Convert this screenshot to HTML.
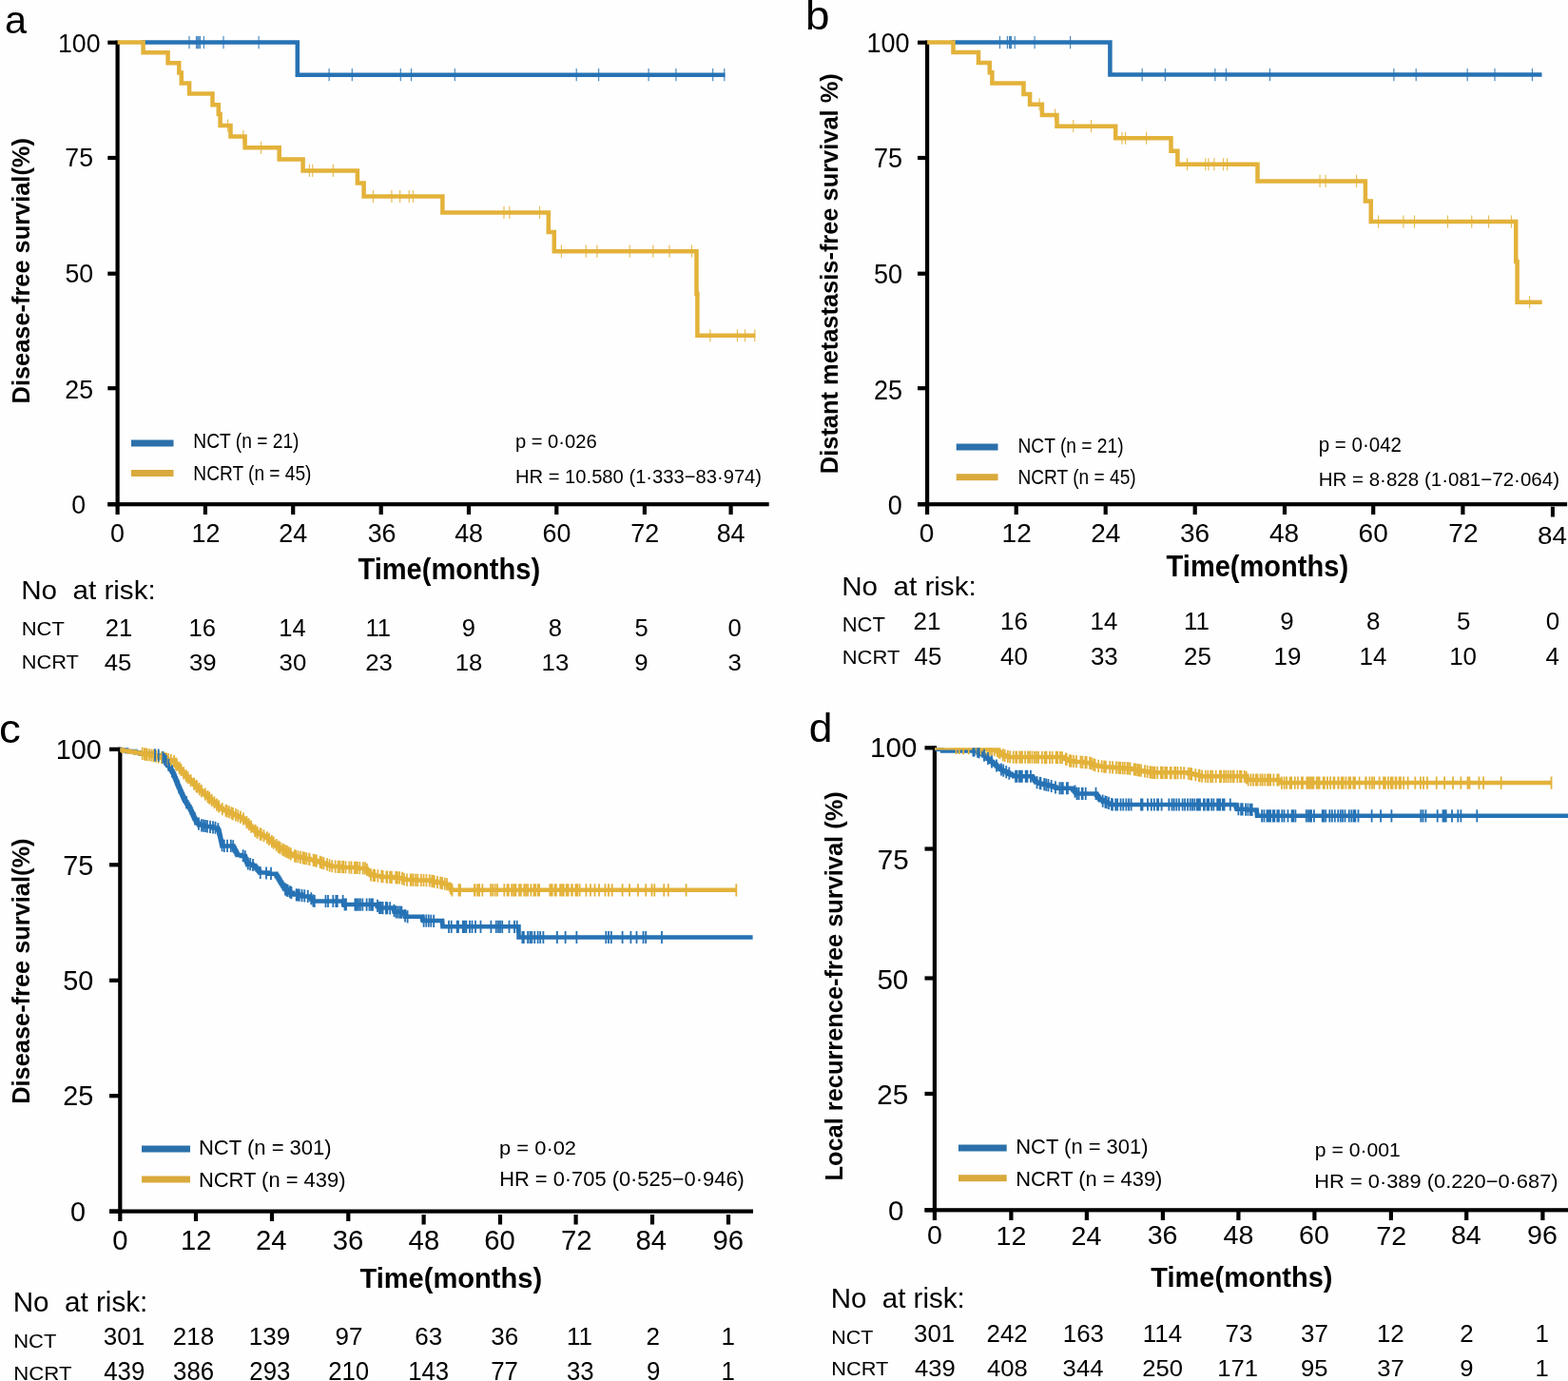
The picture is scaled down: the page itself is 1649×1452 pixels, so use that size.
<!DOCTYPE html>
<html><head><meta charset="utf-8"><title>Kaplan-Meier survival curves</title>
<style>html,body{margin:0;padding:0;background:#fefefe;overflow:hidden;width:1649px;height:1452px;}svg{display:block;}</style></head>
<body><svg width="1649" height="1452" viewBox="0 0 1649 1452">
<rect width="1649" height="1452" fill="#fefefe"/>
<rect x="121.50" y="42.60" width="4.20" height="489.70" fill="#000"/>
<rect x="113.30" y="528.10" width="695.40" height="4.20" fill="#000"/>
<rect x="113.30" y="42.60" width="10.30" height="4.20" fill="#000"/>
<rect x="113.30" y="163.90" width="10.30" height="4.20" fill="#000"/>
<rect x="113.30" y="285.60" width="10.30" height="4.20" fill="#000"/>
<rect x="113.30" y="406.10" width="10.30" height="4.20" fill="#000"/>
<rect x="113.30" y="528.10" width="10.30" height="4.20" fill="#000"/>
<rect x="121.50" y="530.20" width="4.20" height="10.80" fill="#000"/>
<rect x="213.80" y="530.20" width="4.20" height="10.80" fill="#000"/>
<rect x="306.10" y="530.20" width="4.20" height="10.80" fill="#000"/>
<rect x="398.60" y="530.20" width="4.20" height="10.80" fill="#000"/>
<rect x="490.90" y="530.20" width="4.20" height="10.80" fill="#000"/>
<rect x="583.20" y="530.20" width="4.20" height="10.80" fill="#000"/>
<rect x="675.80" y="530.20" width="4.20" height="10.80" fill="#000"/>
<rect x="766.50" y="530.20" width="4.20" height="10.80" fill="#000"/>
<path d="M148.4 44.6H312.8V78.7H762.4" fill="none" stroke="#2672b4" stroke-width="4.5" stroke-linejoin="miter"/>
<path d="M123.6 44.6H150.6V55.3H176.6V66.2H188.3V76.5H190.8V87.6H199.1V98.5H223.5V110.3H229.8V120H231.6V132H242.5V143.5H257.6V155.3H293.7V167.4H318.6V179.4H375.9V192.6H382.6V206.5H465.4V223.4H576.8V244H582.8V264.2H732.5V308.75H733.4V352.75H794.4" fill="none" stroke="#e3b23a" stroke-width="4.5" stroke-linejoin="miter"/>
<path d="M199.00 38.00v13.2M206.50 38.00v13.2M207.80 38.00v13.2M209.00 38.00v13.2M210.40 38.00v13.2M214.40 38.00v13.2M235.00 38.00v13.2M272.10 38.00v13.2M346.10 72.10v13.2M370.30 72.10v13.2M421.30 72.10v13.2M432.50 72.10v13.2M478.30 72.10v13.2M606.20 72.10v13.2M629.60 72.10v13.2M682.10 72.10v13.2M710.90 72.10v13.2M749.70 72.10v13.2M761.80 72.10v13.2" stroke="#2672b4" stroke-width="1.15" stroke-opacity="0.85" fill="none"/>
<path d="M239.60 125.40v13.2M255.90 136.90v13.2M274.60 148.70v13.2M325.40 172.80v13.2M328.75 172.80v13.2M350.40 172.80v13.2M392.50 199.90v13.2M411.90 199.90v13.2M420.60 199.90v13.2M430.25 199.90v13.2M434.40 199.90v13.2M530.00 216.80v13.2M535.90 216.80v13.2M567.50 216.80v13.2M590.40 257.60v13.2M616.25 257.60v13.2M627.90 257.60v13.2M662.25 257.60v13.2M686.90 257.60v13.2M704.00 257.60v13.2M727.50 257.60v13.2M746.90 346.15v13.2M775.40 346.15v13.2M783.50 346.15v13.2M793.75 346.15v13.2" stroke="#e3b23a" stroke-width="1.15" stroke-opacity="0.85" fill="none"/>
<rect x="973.00" y="42.60" width="4.20" height="489.70" fill="#000"/>
<rect x="965.00" y="528.10" width="683.10" height="4.20" fill="#000"/>
<rect x="965.00" y="42.60" width="10.10" height="4.20" fill="#000"/>
<rect x="965.00" y="163.90" width="10.10" height="4.20" fill="#000"/>
<rect x="965.00" y="285.60" width="10.10" height="4.20" fill="#000"/>
<rect x="965.00" y="406.10" width="10.10" height="4.20" fill="#000"/>
<rect x="965.00" y="528.10" width="10.10" height="4.20" fill="#000"/>
<rect x="973.00" y="530.20" width="4.20" height="10.80" fill="#000"/>
<rect x="1066.60" y="530.20" width="4.20" height="10.80" fill="#000"/>
<rect x="1160.60" y="530.20" width="4.20" height="10.80" fill="#000"/>
<rect x="1254.60" y="530.20" width="4.20" height="10.80" fill="#000"/>
<rect x="1348.90" y="530.20" width="4.20" height="10.80" fill="#000"/>
<rect x="1442.10" y="530.20" width="4.20" height="10.80" fill="#000"/>
<rect x="1536.30" y="530.20" width="4.20" height="10.80" fill="#000"/>
<rect x="1630.90" y="532.70" width="4.00" height="10.80" fill="#000"/>
<path d="M1000.3 44.6H1167.4V78.6H1621.5" fill="none" stroke="#2672b4" stroke-width="4.5" stroke-linejoin="miter"/>
<path d="M975.1 44.6H1002.5V55.1H1029V65.9H1040.75V76.25H1043.4V87.6H1076.5V98.9H1083.1V109.75H1095.9V121H1111.5V132.7H1173.2V145.25H1231.5V158.75H1238.4V172.75H1322.5V190.4H1435.9V211.5H1441.75V233.1H1594.25V275H1595.6V317.75H1621.75" fill="none" stroke="#e3b23a" stroke-width="4.5" stroke-linejoin="miter"/>
<path d="M1051.50 38.00v13.2M1059.40 38.00v13.2M1061.50 38.00v13.2M1062.50 38.00v13.2M1063.50 38.00v13.2M1067.25 38.00v13.2M1088.10 38.00v13.2M1125.60 38.00v13.2M1201.20 72.00v13.2M1225.40 72.00v13.2M1277.90 72.00v13.2M1289.40 72.00v13.2M1335.50 72.00v13.2M1465.90 72.00v13.2M1489.20 72.00v13.2M1543.20 72.00v13.2M1572.00 72.00v13.2M1611.40 72.00v13.2" stroke="#2672b4" stroke-width="1.15" stroke-opacity="0.85" fill="none"/>
<path d="M1093.10 103.15v13.2M1109.60 114.40v13.2M1128.75 126.10v13.2M1147.50 126.10v13.2M1180.00 138.65v13.2M1183.50 138.65v13.2M1205.60 138.65v13.2M1248.50 166.15v13.2M1267.75 166.15v13.2M1271.00 166.15v13.2M1276.90 166.15v13.2M1286.60 166.15v13.2M1290.60 166.15v13.2M1388.10 183.80v13.2M1394.10 183.80v13.2M1426.60 183.80v13.2M1449.60 226.50v13.2M1475.90 226.50v13.2M1487.50 226.50v13.2M1522.50 226.50v13.2M1547.75 226.50v13.2M1565.50 226.50v13.2M1589.50 226.50v13.2M1608.60 311.15v13.2" stroke="#e3b23a" stroke-width="1.15" stroke-opacity="0.85" fill="none"/>
<rect x="124.20" y="785.70" width="4.20" height="490.00" fill="#000"/>
<rect x="115.00" y="1271.50" width="677.00" height="4.20" fill="#000"/>
<rect x="115.00" y="785.70" width="11.30" height="4.20" fill="#000"/>
<rect x="115.00" y="907.20" width="11.30" height="4.20" fill="#000"/>
<rect x="115.00" y="1028.70" width="11.30" height="4.20" fill="#000"/>
<rect x="115.00" y="1150.10" width="11.30" height="4.20" fill="#000"/>
<rect x="115.00" y="1271.50" width="11.30" height="4.20" fill="#000"/>
<rect x="124.20" y="1273.60" width="4.20" height="10.40" fill="#000"/>
<rect x="203.90" y="1273.60" width="4.20" height="10.40" fill="#000"/>
<rect x="283.90" y="1273.60" width="4.20" height="10.40" fill="#000"/>
<rect x="364.20" y="1273.60" width="4.20" height="10.40" fill="#000"/>
<rect x="443.50" y="1277.00" width="4.20" height="10.50" fill="#000"/>
<rect x="523.90" y="1277.00" width="4.20" height="10.50" fill="#000"/>
<rect x="603.50" y="1277.00" width="4.20" height="10.50" fill="#000"/>
<rect x="683.90" y="1277.00" width="4.20" height="10.50" fill="#000"/>
<rect x="763.90" y="1277.00" width="4.20" height="10.50" fill="#000"/>
<path d="M126.30 788.50H133.15V790.00H140.00H142.50V791.25H147.50V792.50H150.00H160.00V794.50H170.00H170.60V796.00H171.80V797.50H173.00V799.00H174.20V800.50H175.40V802.00H176.00H176.46V803.64H177.39V805.29H178.32V806.93H179.25V808.57H180.18V810.21H181.11V811.86H182.04V813.50H182.50H182.81V815.06H183.44V816.62H184.06V818.19H184.69V819.75H185.31V821.31H185.94V822.88H186.56V824.44H187.19V826.00H187.50H187.85V827.56H188.54V829.11H189.24V830.67H189.93V832.22H190.62V833.78H191.32V835.33H192.01V836.89H192.71V838.44H193.40V840.00H193.75H194.27V841.67H195.31V843.33H196.35V845.00H197.40V846.67H198.44V848.33H199.48V850.00H200.00H200.36V851.57H201.07V853.14H201.79V854.71H202.50V856.29H203.21V857.86H203.93V859.43H204.64V861.00H205.00H205.62V862.62H206.88V864.25H208.12V865.88H209.38V867.50H210.00H214.50V869.00H223.50V870.50H228.00H229.00V872.50H230.00H230.19V874.19H230.56V875.88H230.94V877.57H231.31V879.26H231.69V880.95H232.06V882.64H232.44V884.33H232.81V886.02H233.19V887.71H233.56V889.40H233.75H245.00H245.42V891.00H246.25V892.60H247.08V894.20H247.92V895.80H248.75V897.40H249.58V899.00H250.00H253.75V900.00H257.50H257.75V901.50H258.25V903.00H258.75V904.50H259.25V906.00H259.75V907.50H260.00H261.88V908.75H265.62V910.00H267.50H268.12V911.50H269.38V913.00H270.62V914.50H271.88V916.00H273.12V917.50H273.75H281.88V918.75H290.00H290.50V920.38H291.50V922.00H292.50V923.62H293.50V925.25H294.50V926.88H295.50V928.50H296.50V930.12H297.50V931.75H298.50V933.38H299.50V935.00H300.00H301.67V936.87H305.00V938.73H308.33V940.60H310.00H317.50V942.50H325.00H325.83V944.17H327.50V945.83H329.17V947.50H330.00H361.00H361.06V949.25H361.19V951.00H361.25H396.00H396.69V952.70H398.06V954.40H398.75H413.75H413.96V955.85H414.38V957.30H414.79V958.75H415.00H425.00H425.21V960.42H425.62V962.08H426.04V963.75H426.25H443.75H443.96V965.20H444.38V966.65H444.79V968.10H445.00H465.00H465.07V969.65H465.23V971.20H465.38V972.75H465.53V974.30H465.60H545.50V985.50H791.60" fill="none" stroke="#2672b4" stroke-width="4.5" stroke-linejoin="miter"/>
<path d="M126.30 788.50H129.42V789.50H135.65V790.50H141.88V791.50H145.00H147.71V792.50H153.12V793.50H158.54V794.50H161.25H163.38V795.60H167.62V796.70H171.88V797.80H176.12V798.90H180.38V800.00H182.50H182.95V801.07H183.84V802.14H184.73V803.21H185.62V804.29H186.52V805.36H187.41V806.43H188.30V807.50H189.20V808.57H190.09V809.64H190.98V810.71H191.88V811.79H192.77V812.86H193.66V813.93H194.55V815.00H195.00H195.54V816.07H196.61V817.14H197.68V818.21H198.75V819.29H199.82V820.36H200.89V821.43H201.96V822.50H203.04V823.57H204.11V824.64H205.18V825.71H206.25V826.79H207.32V827.86H208.39V828.93H209.46V830.00H210.00H210.62V831.11H211.87V832.22H213.11V833.33H214.36V834.44H215.60V835.56H216.84V836.67H218.09V837.78H219.33V838.89H220.58V840.00H221.82V841.11H223.07V842.22H224.31V843.33H225.56V844.44H226.80V845.56H228.04V846.67H229.29V847.78H230.53V848.89H231.78V850.00H232.40H233.66V851.11H236.17V852.22H238.68V853.33H241.19V854.44H243.70V855.56H246.21V856.67H248.72V857.78H251.23V858.89H253.74V860.00H255.00H255.54V861.07H256.61V862.14H257.68V863.21H258.75V864.29H259.82V865.36H260.89V866.43H261.96V867.50H263.04V868.57H264.11V869.64H265.18V870.71H266.25V871.79H267.32V872.86H268.39V873.93H269.46V875.00H270.00H271.00V876.00H273.00V877.00H275.00V878.00H277.00V879.00H279.00V880.00H280.00H280.68V881.09H282.05V882.18H283.41V883.27H284.77V884.36H286.14V885.45H287.50V886.55H288.86V887.64H290.23V888.73H291.59V889.82H292.95V890.91H294.32V892.00H295.00H296.07V893.14H298.21V894.29H300.36V895.43H302.50V896.57H304.64V897.71H306.79V898.86H308.93V900.00H310.00H312.24V901.00H316.72V902.00H321.20V903.00H325.68V904.00H330.16V905.00H332.40H334.16V906.20H337.68V907.40H341.20V908.60H344.72V909.80H348.24V911.00H350.00H358.75V912.00H376.25V913.00H385.00H385.42V914.17H386.25V915.33H387.08V916.50H387.92V917.67H388.75V918.83H389.58V920.00H390.00H393.75V920.95H401.25V921.90H405.00H413.75V923.10H422.50H423.44V924.05H425.31V925.00H426.25H438.12V925.60H450.00H453.12V926.85H459.38V928.10H462.50H464.69V929.05H469.06V930.00H471.25H471.62V931.16H472.38V932.32H473.12V933.48H473.88V934.64H474.62V935.80H475.00H774.70" fill="none" stroke="#e3b23a" stroke-width="4.5" stroke-linejoin="miter"/>
<path d="M149.72 785.77v13.2M151.97 786.19v13.2M153.37 786.44v13.2M154.74 786.70v13.2M157.13 787.14v13.2M159.45 787.57v13.2M161.63 788.00v13.2M164.18 788.66v13.2M166.85 789.35v13.2M170.03 790.17v13.2M172.87 790.91v13.2M174.21 791.25v13.2M175.07 791.48v13.2M176.99 791.98v13.2M179.80 792.70v13.2M183.09 794.10v13.2M185.10 796.52v13.2M185.88 797.45v13.2M188.70 800.85v13.2M190.38 802.86v13.2M193.17 806.20v13.2M195.73 809.13v13.2M197.63 811.03v13.2M200.62 814.02v13.2M204.07 817.47v13.2M206.46 819.86v13.2M207.23 820.63v13.2M209.70 823.10v13.2M211.90 825.09v13.2M215.78 828.56v13.2M218.50 830.99v13.2M220.25 832.55v13.2M222.65 834.69v13.2M225.38 837.13v13.2M228.05 839.51v13.2M230.10 841.35v13.2M233.83 844.03v13.2M237.45 845.64v13.2M238.74 846.21v13.2M240.89 847.15v13.2M243.44 848.29v13.2M244.93 848.95v13.2M247.96 850.29v13.2M250.30 851.32v13.2M252.91 852.48v13.2M255.97 854.37v13.2M259.53 857.93v13.2M261.77 860.17v13.2M264.13 862.53v13.2M268.23 866.63v13.2M268.71 867.11v13.2M270.68 868.74v13.2M273.63 870.21v13.2M274.63 870.72v13.2M277.46 872.13v13.2M280.92 874.14v13.2M282.99 875.79v13.2M285.87 878.10v13.2M287.77 879.62v13.2M290.67 881.94v13.2M292.87 883.70v13.2M294.62 885.09v13.2M297.21 886.58v13.2M299.01 887.54v13.2M300.97 888.59v13.2M301.97 889.12v13.2M303.86 890.13v13.2M305.88 891.20v13.2M309.94 893.37v13.2M311.09 893.64v13.2M313.37 894.15v13.2M315.82 894.70v13.2M318.56 895.31v13.2M320.32 895.70v13.2M322.36 896.16v13.2M325.09 896.77v13.2M325.55 896.87v13.2M329.63 897.78v13.2M331.37 898.17v13.2M332.84 898.55v13.2M336.69 899.86v13.2M338.51 900.48v13.2M340.50 901.16v13.2M344.01 902.36v13.2M346.62 903.25v13.2M349.26 904.15v13.2M352.65 904.55v13.2M355.59 904.72v13.2M357.50 904.83v13.2M360.14 904.98v13.2M361.11 905.04v13.2M363.46 905.17v13.2M367.35 905.39v13.2M369.61 905.52v13.2M372.98 905.71v13.2M373.94 905.77v13.2M375.78 905.87v13.2M378.30 906.02v13.2M381.81 906.22v13.2M383.87 906.34v13.2M385.94 907.71v13.2M389.97 913.35v13.2M392.65 913.74v13.2M394.10 913.92v13.2M397.30 914.32v13.2M401.30 914.83v13.2M402.59 914.99v13.2M406.36 915.39v13.2M407.17 915.45v13.2M410.15 915.65v13.2M411.92 915.77v13.2M416.28 916.07v13.2M417.98 916.19v13.2M420.12 916.34v13.2M422.93 916.72v13.2M424.91 917.72v13.2M427.99 918.44v13.2M431.73 918.54v13.2M432.66 918.56v13.2M434.64 918.61v13.2M437.24 918.68v13.2M439.28 918.73v13.2M442.82 918.82v13.2M445.51 918.89v13.2M448.42 918.96v13.2M451.76 919.35v13.2M454.25 919.85v13.2M455.59 920.12v13.2M456.69 920.34v13.2M459.93 920.99v13.2M463.17 921.64v13.2M465.04 922.05v13.2M467.84 922.66v13.2M470.06 923.14v13.2M474.00 927.65v13.2M475.50 929.20v13.2M482.50 929.20v13.2M484.00 929.20v13.2M499.00 929.20v13.2M499.60 929.20v13.2M502.24 929.20v13.2M504.12 929.20v13.2M507.34 929.20v13.2M516.18 929.20v13.2M518.23 929.20v13.2M520.67 929.20v13.2M522.97 929.20v13.2M530.32 929.20v13.2M533.57 929.20v13.2M534.73 929.20v13.2M538.16 929.20v13.2M538.58 929.20v13.2M540.60 929.20v13.2M542.34 929.20v13.2M545.98 929.20v13.2M547.87 929.20v13.2M551.26 929.20v13.2M553.18 929.20v13.2M555.15 929.20v13.2M558.43 929.20v13.2M561.55 929.20v13.2M563.01 929.20v13.2M565.66 929.20v13.2M567.06 929.20v13.2M578.36 929.20v13.2M579.44 929.20v13.2M580.68 929.20v13.2M583.55 929.20v13.2M584.88 929.20v13.2M589.09 929.20v13.2M591.03 929.20v13.2M592.71 929.20v13.2M595.77 929.20v13.2M597.56 929.20v13.2M601.12 929.20v13.2M601.82 929.20v13.2M605.43 929.20v13.2M607.22 929.20v13.2M609.60 929.20v13.2M616.40 929.20v13.2M621.00 929.20v13.2M625.50 929.20v13.2M630.00 929.20v13.2M636.50 929.20v13.2M640.00 929.20v13.2M643.70 929.20v13.2M654.60 929.20v13.2M662.00 929.20v13.2M671.00 929.20v13.2M679.20 929.20v13.2M685.50 929.20v13.2M688.30 929.20v13.2M698.30 929.20v13.2M702.80 929.20v13.2M721.60 929.20v13.2M774.30 929.20v13.2" stroke="#e3b23a" stroke-width="1.8" stroke-opacity="1" fill="none"/>
<path d="M163.00 787.20v13.2M166.70 787.57v13.2M171.40 789.65v13.2M173.25 791.96v13.2M174.80 793.90v13.2M177.30 797.70v13.2M181.00 804.25v13.2M188.00 820.52v13.2M196.00 837.00v13.2M205.00 854.40v13.2M209.00 859.60v13.2M212.00 861.23v13.2M214.00 861.57v13.2M216.00 861.90v13.2M218.00 862.23v13.2M221.00 862.73v13.2M224.00 863.23v13.2M226.50 863.65v13.2M229.32 865.22v13.2M233.59 882.09v13.2M235.81 882.80v13.2M239.00 882.80v13.2M242.84 882.80v13.2M245.18 883.15v13.2M255.63 893.15v13.2M257.80 894.30v13.2M259.11 898.23v13.2M260.84 901.18v13.2M263.16 901.95v13.2M265.99 902.90v13.2M273.75 910.90v13.2M280.00 911.38v13.2M285.00 911.77v13.2M300.00 928.40v13.2M301.46 929.22v13.2M302.72 929.92v13.2M304.90 931.15v13.2M306.43 932.00v13.2M311.70 934.21v13.2M313.09 934.39v13.2M314.74 934.60v13.2M317.50 934.95v13.2M320.28 935.30v13.2M323.75 935.74v13.2M327.24 938.14v13.2M329.31 940.21v13.2M330.77 940.90v13.2M342.50 940.90v13.2M345.00 940.90v13.2M350.31 940.90v13.2M353.35 940.90v13.2M354.76 940.90v13.2M360.60 940.90v13.2M362.50 944.41v13.2M364.00 944.42v13.2M373.39 944.49v13.2M375.06 944.50v13.2M376.91 944.51v13.2M378.92 944.53v13.2M381.29 944.54v13.2M385.57 944.57v13.2M388.50 944.60v13.2M390.50 944.61v13.2M392.00 944.62v13.2M397.00 945.80v13.2M399.00 947.81v13.2M400.70 947.88v13.2M402.59 947.95v13.2M405.85 948.08v13.2M407.39 948.15v13.2M410.23 948.26v13.2M414.52 950.71v13.2M416.52 952.25v13.2M418.52 952.38v13.2M420.56 952.51v13.2M422.40 952.63v13.2M426.00 956.28v13.2M428.60 957.18v13.2M445.64 961.51v13.2M448.25 961.57v13.2M450.79 961.62v13.2M453.26 961.67v13.2M456.20 961.72v13.2M472.00 967.70v13.2M474.70 967.70v13.2M480.70 967.70v13.2M482.00 967.70v13.2M486.80 967.70v13.2M488.50 967.70v13.2M490.40 967.70v13.2M494.00 967.70v13.2M496.50 967.70v13.2M500.00 967.70v13.2M505.50 967.70v13.2M516.40 967.70v13.2M521.80 967.70v13.2M524.00 967.70v13.2M526.00 967.70v13.2M528.20 967.70v13.2M535.50 967.70v13.2M541.00 967.70v13.2M543.70 967.70v13.2M549.36 978.90v13.2M550.83 978.90v13.2M555.11 978.90v13.2M557.39 978.90v13.2M559.31 978.90v13.2M562.24 978.90v13.2M565.64 978.90v13.2M568.18 978.90v13.2M571.37 978.90v13.2M585.90 978.90v13.2M594.60 978.90v13.2M606.40 978.90v13.2M637.30 978.90v13.2M640.00 978.90v13.2M642.80 978.90v13.2M654.60 978.90v13.2M663.40 978.90v13.2M669.50 978.90v13.2M676.50 978.90v13.2M679.20 978.90v13.2M696.00 978.90v13.2" stroke="#2672b4" stroke-width="1.8" stroke-opacity="1" fill="none"/>
<rect x="980.80" y="784.20" width="4.20" height="490.20" fill="#000"/>
<rect x="972.50" y="1270.20" width="676.50" height="4.20" fill="#000"/>
<rect x="972.50" y="784.20" width="10.40" height="4.20" fill="#000"/>
<rect x="972.50" y="890.40" width="10.40" height="4.20" fill="#000"/>
<rect x="972.50" y="1026.40" width="10.40" height="4.20" fill="#000"/>
<rect x="972.50" y="1147.90" width="10.40" height="4.20" fill="#000"/>
<rect x="972.50" y="1270.20" width="10.40" height="4.20" fill="#000"/>
<rect x="980.80" y="1272.30" width="4.20" height="10.70" fill="#000"/>
<rect x="1061.30" y="1272.30" width="4.20" height="10.70" fill="#000"/>
<rect x="1140.80" y="1272.30" width="4.20" height="10.70" fill="#000"/>
<rect x="1220.80" y="1272.30" width="4.20" height="10.70" fill="#000"/>
<rect x="1300.30" y="1272.30" width="4.20" height="10.70" fill="#000"/>
<rect x="1380.30" y="1272.30" width="4.20" height="10.70" fill="#000"/>
<rect x="1460.80" y="1272.30" width="4.20" height="10.70" fill="#000"/>
<rect x="1540.10" y="1272.30" width="4.20" height="10.70" fill="#000"/>
<rect x="1620.30" y="1272.30" width="4.20" height="10.70" fill="#000"/>
<clipPath id="cd"><rect x="980" y="786.3" width="680" height="500"/></clipPath><g clip-path="url(#cd)">
<path d="M983.00 786.30H985.69V787.85H991.06V789.40H993.75H1025.00H1028.12V791.25H1031.25H1032.29V792.92H1034.38V794.58H1036.46V796.25H1037.50H1038.44V797.81H1040.31V799.38H1042.19V800.94H1044.06V802.50H1045.00H1045.94V804.06H1047.81V805.62H1049.69V807.19H1051.56V808.75H1052.50H1053.75V810.00H1056.25V811.25H1058.75V812.50H1060.00H1061.25V813.75H1063.75V815.00H1066.25V816.25H1067.50H1085.00H1085.62V817.81H1086.88V819.38H1088.12V820.94H1089.38V822.50H1090.00H1092.50V823.75H1097.50V825.00H1102.50V826.25H1105.00H1106.88V827.50H1110.62V828.75H1112.50H1127.50H1128.12V830.16H1129.38V831.58H1130.62V832.99H1131.88V834.40H1132.50H1152.50H1153.00V835.77H1154.00V837.14H1155.00V838.51H1156.00V839.88H1157.00V841.25H1157.50H1160.00V843.10H1162.50H1164.38V844.55H1168.12V846.00H1170.00H1299.30H1299.57V847.57H1300.10V849.13H1300.63V850.70H1300.90H1311.15V851.50H1321.40H1321.50V853.08H1321.70V854.65H1321.90V856.22H1322.10V857.80H1322.20H1649.00" fill="none" stroke="#2672b4" stroke-width="4.5" stroke-linejoin="miter"/>
<path d="M983.00 786.30H1022.50H1028.75V787.40H1041.25V788.50H1047.50H1048.12V789.42H1049.38V790.33H1050.62V791.25H1051.88V792.17H1053.12V793.08H1054.38V794.00H1055.00H1056.88V795.00H1060.62V796.00H1062.50H1117.50H1118.44V797.00H1120.31V798.00H1122.19V799.00H1124.06V800.00H1125.00H1130.25V801.00H1140.75V802.00H1146.00H1147.08V803.00H1149.25V804.00H1151.42V805.00H1152.50H1155.62V805.75H1161.88V806.50H1165.00H1170.60V807.25H1181.80V808.00H1187.40H1190.53V809.08H1196.78V810.15H1203.03V811.22H1209.28V812.30H1212.40H1247.40H1249.60V813.29H1254.00V814.27H1258.40V815.26H1262.80V816.25H1265.00H1310.00H1310.30V817.19H1310.90V818.12H1311.50V819.06H1312.10V820.00H1312.40H1345.00H1345.40V821.03H1346.20V822.07H1347.00V823.10H1347.40H1631.50" fill="none" stroke="#e3b23a" stroke-width="4.5" stroke-linejoin="miter"/>
<path d="M1005.60 779.87v13.2M1008.75 779.90v13.2M1013.10 779.93v13.2M1018.75 779.97v13.2M1027.57 780.39v13.2M1029.04 780.50v13.2M1031.30 780.67v13.2M1035.33 780.97v13.2M1038.30 781.20v13.2M1041.06 781.41v13.2M1043.12 781.57v13.2M1045.76 781.77v13.2M1048.69 782.77v13.2M1050.51 784.11v13.2M1051.53 784.86v13.2M1054.69 787.17v13.2M1056.70 787.85v13.2M1059.89 788.70v13.2M1062.22 789.33v13.2M1065.67 789.43v13.2M1068.31 789.45v13.2M1069.24 789.46v13.2M1072.28 789.49v13.2M1074.19 789.51v13.2M1074.97 789.51v13.2M1078.07 789.54v13.2M1081.07 789.57v13.2M1082.98 789.59v13.2M1085.43 789.61v13.2M1087.92 789.63v13.2M1090.03 789.65v13.2M1092.00 789.67v13.2M1095.80 789.70v13.2M1098.78 789.73v13.2M1100.51 789.75v13.2M1104.04 789.78v13.2M1106.70 789.80v13.2M1110.65 789.84v13.2M1112.27 789.85v13.2M1115.00 789.88v13.2M1116.97 789.90v13.2M1120.81 791.44v13.2M1121.65 791.83v13.2M1124.94 793.37v13.2M1126.64 793.56v13.2M1129.19 793.80v13.2M1132.00 794.07v13.2M1136.46 794.49v13.2M1138.41 794.68v13.2M1141.41 794.96v13.2M1142.73 795.09v13.2M1146.11 795.45v13.2M1147.87 796.26v13.2M1150.18 797.33v13.2M1151.57 797.97v13.2M1155.16 798.72v13.2M1158.61 799.13v13.2M1161.14 799.44v13.2M1162.87 799.64v13.2M1167.24 800.05v13.2M1170.08 800.24v13.2M1174.04 800.51v13.2M1176.39 800.66v13.2M1178.07 800.78v13.2M1180.60 800.94v13.2M1182.75 801.09v13.2M1185.44 801.27v13.2M1186.54 801.34v13.2M1188.53 801.59v13.2M1192.72 802.31v13.2M1194.30 802.59v13.2M1196.33 802.94v13.2M1198.09 803.24v13.2M1200.05 803.58v13.2M1203.96 804.25v13.2M1206.63 804.71v13.2M1209.53 805.21v13.2M1210.97 805.45v13.2M1212.96 805.71v13.2M1214.54 805.73v13.2M1217.17 805.77v13.2M1220.86 805.82v13.2M1222.74 805.85v13.2M1225.34 805.88v13.2M1227.10 805.91v13.2M1230.68 805.96v13.2M1231.76 805.98v13.2M1235.21 806.03v13.2M1236.27 806.04v13.2M1238.55 806.07v13.2M1241.92 806.12v13.2M1245.12 806.17v13.2M1245.38 806.17v13.2M1249.80 806.67v13.2M1251.85 807.07v13.2M1253.10 807.32v13.2M1257.28 808.14v13.2M1260.85 808.84v13.2M1261.55 808.97v13.2M1264.09 809.47v13.2M1267.74 809.67v13.2M1270.33 809.68v13.2M1273.18 809.70v13.2M1275.22 809.71v13.2M1278.71 809.73v13.2M1282.85 809.75v13.2M1284.21 809.76v13.2M1287.11 809.77v13.2M1289.28 809.78v13.2M1291.65 809.80v13.2M1294.20 809.81v13.2M1296.57 809.83v13.2M1297.67 809.83v13.2M1301.24 809.85v13.2M1304.02 809.87v13.2M1305.53 809.88v13.2M1308.77 809.89v13.2M1310.75 810.99v13.2M1312.66 813.40v13.2M1315.49 813.40v13.2M1317.99 813.40v13.2M1320.76 813.40v13.2M1322.57 813.40v13.2M1325.56 813.40v13.2M1327.71 813.40v13.2M1330.34 813.40v13.2M1333.08 813.40v13.2M1335.04 813.40v13.2M1336.13 813.40v13.2M1339.39 813.40v13.2M1343.25 813.40v13.2M1344.76 813.40v13.2M1347.90 816.50v13.2M1350.60 816.50v13.2M1353.08 816.50v13.2M1356.56 816.50v13.2M1358.09 816.50v13.2M1361.81 816.50v13.2M1364.94 816.50v13.2M1368.90 816.50v13.2M1369.95 816.50v13.2M1374.35 816.50v13.2M1375.85 816.50v13.2M1377.73 816.50v13.2M1379.65 816.50v13.2M1381.40 816.50v13.2M1384.77 816.50v13.2M1386.60 816.50v13.2M1387.62 816.50v13.2M1391.63 816.50v13.2M1392.86 816.50v13.2M1395.92 816.50v13.2M1399.10 816.50v13.2M1402.55 816.50v13.2M1403.39 816.50v13.2M1407.21 816.50v13.2M1407.68 816.50v13.2M1410.79 816.50v13.2M1412.61 816.50v13.2M1415.38 816.50v13.2M1418.50 816.50v13.2M1420.23 816.50v13.2M1423.37 816.50v13.2M1425.00 816.50v13.2M1429.59 816.50v13.2M1436.21 816.50v13.2M1436.68 816.50v13.2M1440.39 816.50v13.2M1443.02 816.50v13.2M1445.17 816.50v13.2M1450.70 816.50v13.2M1455.08 816.50v13.2M1456.82 816.50v13.2M1459.95 816.50v13.2M1462.78 816.50v13.2M1464.56 816.50v13.2M1467.61 816.50v13.2M1468.40 816.50v13.2M1471.60 816.50v13.2M1472.96 816.50v13.2M1476.13 816.50v13.2M1480.63 816.50v13.2M1488.30 816.50v13.2M1493.90 816.50v13.2M1497.00 816.50v13.2M1501.00 816.50v13.2M1510.70 816.50v13.2M1519.10 816.50v13.2M1528.00 816.50v13.2M1536.40 816.50v13.2M1543.50 816.50v13.2M1545.40 816.50v13.2M1555.40 816.50v13.2M1560.10 816.50v13.2M1578.70 816.50v13.2M1631.50 816.50v13.2" stroke="#e3b23a" stroke-width="1.8" stroke-opacity="1" fill="none"/>
<path d="M1023.37 782.42v13.2M1024.71 782.40v13.2M1028.08 783.51v13.2M1029.62 784.06v13.2M1035.00 787.65v13.2M1039.00 790.90v13.2M1043.00 794.23v13.2M1048.00 798.40v13.2M1053.00 802.40v13.2M1055.19 803.50v13.2M1058.24 805.02v13.2M1061.31 806.55v13.2M1068.05 809.65v13.2M1069.61 809.65v13.2M1072.04 809.65v13.2M1073.08 809.65v13.2M1074.84 809.65v13.2M1078.66 809.65v13.2M1080.43 809.65v13.2M1083.96 809.65v13.2M1090.49 816.02v13.2M1093.59 816.80v13.2M1094.47 817.02v13.2M1098.19 817.95v13.2M1100.24 818.46v13.2M1102.46 819.01v13.2M1105.70 819.88v13.2M1110.00 821.32v13.2M1114.44 822.15v13.2M1116.49 822.15v13.2M1117.82 822.15v13.2M1121.85 822.15v13.2M1122.94 822.15v13.2M1130.55 825.59v13.2M1132.57 827.80v13.2M1134.59 827.80v13.2M1137.81 827.80v13.2M1138.62 827.80v13.2M1141.75 827.80v13.2M1152.50 827.80v13.2M1159.70 835.46v13.2M1162.38 836.46v13.2M1163.80 837.00v13.2M1166.04 837.87v13.2M1169.03 839.02v13.2M1169.95 839.38v13.2M1173.23 839.40v13.2M1175.14 839.40v13.2M1178.55 839.40v13.2M1181.26 839.40v13.2M1184.40 839.40v13.2M1187.09 839.40v13.2M1189.57 839.40v13.2M1200.00 839.40v13.2M1201.50 839.40v13.2M1207.01 839.40v13.2M1210.85 839.40v13.2M1213.84 839.40v13.2M1217.06 839.40v13.2M1218.10 839.40v13.2M1221.60 839.40v13.2M1229.34 839.40v13.2M1232.54 839.40v13.2M1234.69 839.40v13.2M1237.35 839.40v13.2M1240.04 839.40v13.2M1243.64 839.40v13.2M1246.10 839.40v13.2M1249.05 839.40v13.2M1251.76 839.40v13.2M1254.08 839.40v13.2M1256.32 839.40v13.2M1258.93 839.40v13.2M1260.69 839.40v13.2M1262.03 839.40v13.2M1265.90 839.40v13.2M1266.79 839.40v13.2M1269.56 839.40v13.2M1271.20 839.40v13.2M1274.16 839.40v13.2M1276.36 839.40v13.2M1280.13 839.40v13.2M1281.83 839.40v13.2M1283.19 839.40v13.2M1285.83 839.40v13.2M1287.61 839.40v13.2M1293.80 839.40v13.2M1302.38 844.16v13.2M1305.12 844.26v13.2M1306.72 844.33v13.2M1310.10 844.46v13.2M1312.43 844.55v13.2M1314.88 844.65v13.2M1316.69 844.72v13.2M1327.11 851.20v13.2M1329.41 851.20v13.2M1332.46 851.20v13.2M1334.24 851.20v13.2M1336.06 851.20v13.2M1338.76 851.20v13.2M1340.36 851.20v13.2M1343.33 851.20v13.2M1344.95 851.20v13.2M1348.25 851.20v13.2M1350.52 851.20v13.2M1354.46 851.20v13.2M1358.55 851.20v13.2M1360.17 851.20v13.2M1362.38 851.20v13.2M1373.81 851.20v13.2M1375.85 851.20v13.2M1377.77 851.20v13.2M1379.06 851.20v13.2M1381.93 851.20v13.2M1390.71 851.20v13.2M1392.10 851.20v13.2M1394.16 851.20v13.2M1398.36 851.20v13.2M1400.84 851.20v13.2M1403.82 851.20v13.2M1407.22 851.20v13.2M1409.81 851.20v13.2M1411.96 851.20v13.2M1414.46 851.20v13.2M1418.79 851.20v13.2M1421.34 851.20v13.2M1423.68 851.20v13.2M1425.33 851.20v13.2M1428.49 851.20v13.2M1442.60 851.20v13.2M1452.10 851.20v13.2M1463.40 851.20v13.2M1494.30 851.20v13.2M1496.50 851.20v13.2M1499.40 851.20v13.2M1511.70 851.20v13.2M1517.50 851.20v13.2M1519.00 851.20v13.2M1520.70 851.20v13.2M1527.00 851.20v13.2M1533.30 851.20v13.2M1536.40 851.20v13.2M1553.30 851.20v13.2" stroke="#2672b4" stroke-width="1.8" stroke-opacity="1" fill="none"/>
</g>
<rect x="138.00" y="462.50" width="44.50" height="7.00" fill="#2b70aa"/>
<rect x="138.00" y="494.00" width="44.50" height="7.00" fill="#d9aa3c"/>
<rect x="1005.70" y="466.50" width="43.80" height="7.00" fill="#2b70aa"/>
<rect x="1005.70" y="498.20" width="43.80" height="7.00" fill="#d9aa3c"/>
<rect x="149.00" y="1204.50" width="51.00" height="7.00" fill="#2b70aa"/>
<rect x="149.00" y="1236.50" width="51.00" height="7.00" fill="#d9aa3c"/>
<rect x="1008.00" y="1203.50" width="50.70" height="7.00" fill="#2b70aa"/>
<rect x="1008.00" y="1235.20" width="50.70" height="7.00" fill="#d9aa3c"/>
<g fill="#000" font-family="Liberation Sans, Arial, sans-serif" style="white-space:pre">
<text transform="translate(5.03,35.20) scale(1.0440,1)" font-size="39.82">a</text>
<text transform="translate(847.02,31.47) scale(1.0750,1)" font-size="42.59">b</text>
<text transform="translate(-1.05,781.37) scale(1.0489,1)" font-size="43.45">c</text>
<text transform="translate(850.72,779.57) scale(1.0437,1)" font-size="42.59">d</text>
<text transform="translate(61.00,54.72) scale(0.9482,1)" font-size="28.17">100</text>
<text transform="translate(68.29,175.18) scale(0.9482,1)" font-size="28.17">75</text>
<text transform="translate(68.43,297.37) scale(0.9482,1)" font-size="28.17">50</text>
<text transform="translate(68.29,419.22) scale(0.9482,1)" font-size="28.17">25</text>
<text transform="translate(75.34,540.22) scale(0.9482,1)" font-size="28.17">0</text>
<text transform="translate(911.38,54.71) scale(0.9314,1)" font-size="29.01">100</text>
<text transform="translate(918.92,175.66) scale(0.9314,1)" font-size="29.01">75</text>
<text transform="translate(919.05,297.66) scale(0.9314,1)" font-size="29.01">50</text>
<text transform="translate(918.92,419.51) scale(0.9314,1)" font-size="29.01">25</text>
<text transform="translate(933.75,540.51) scale(0.9314,1)" font-size="29.01">0</text>
<text transform="translate(58.84,797.71) scale(0.9966,1)" font-size="28.87">100</text>
<text transform="translate(66.14,919.52) scale(0.9966,1)" font-size="28.87">75</text>
<text transform="translate(66.28,1040.91) scale(0.9966,1)" font-size="28.87">50</text>
<text transform="translate(66.14,1162.21) scale(0.9966,1)" font-size="28.87">25</text>
<text transform="translate(74.02,1284.46) scale(0.9966,1)" font-size="28.87">0</text>
<text transform="translate(915.11,796.49) scale(1.0294,1)" font-size="28.73">100</text>
<text transform="translate(922.84,914.17) scale(1.0294,1)" font-size="28.73">75</text>
<text transform="translate(922.38,1040.46) scale(1.0294,1)" font-size="28.73">50</text>
<text transform="translate(922.24,1161.31) scale(1.0294,1)" font-size="28.73">25</text>
<text transform="translate(933.99,1283.01) scale(1.0294,1)" font-size="28.73">0</text>
<text transform="translate(116.05,570.23) scale(0.9901,1)" font-size="27.11">0</text>
<text transform="translate(201.52,570.36) scale(0.9901,1)" font-size="27.11">12</text>
<text transform="translate(293.33,570.36) scale(0.9901,1)" font-size="27.11">24</text>
<text transform="translate(386.67,570.23) scale(0.9901,1)" font-size="27.11">36</text>
<text transform="translate(478.18,570.23) scale(0.9901,1)" font-size="27.11">48</text>
<text transform="translate(570.59,570.23) scale(0.9901,1)" font-size="27.11">60</text>
<text transform="translate(663.35,570.36) scale(0.9901,1)" font-size="27.11">72</text>
<text transform="translate(753.65,570.23) scale(0.9901,1)" font-size="27.11">84</text>
<text transform="translate(966.72,569.72) scale(0.9947,1)" font-size="28.17">0</text>
<text transform="translate(1053.60,569.86) scale(0.9947,1)" font-size="28.17">12</text>
<text transform="translate(1147.17,569.86) scale(0.9947,1)" font-size="28.17">24</text>
<text transform="translate(1240.89,569.72) scale(0.9947,1)" font-size="28.17">36</text>
<text transform="translate(1335.03,569.72) scale(0.9947,1)" font-size="28.17">48</text>
<text transform="translate(1428.56,569.72) scale(0.9947,1)" font-size="28.17">60</text>
<text transform="translate(1523.32,569.86) scale(0.9947,1)" font-size="28.17">72</text>
<text transform="translate(118.13,1314.21) scale(1.0140,1)" font-size="28.87">0</text>
<text transform="translate(189.99,1314.36) scale(1.0140,1)" font-size="28.87">12</text>
<text transform="translate(268.96,1314.36) scale(1.0140,1)" font-size="28.87">24</text>
<text transform="translate(349.82,1314.21) scale(1.0140,1)" font-size="28.87">36</text>
<text transform="translate(429.60,1314.21) scale(1.0140,1)" font-size="28.87">48</text>
<text transform="translate(509.23,1314.21) scale(1.0140,1)" font-size="28.87">60</text>
<text transform="translate(590.00,1314.36) scale(1.0140,1)" font-size="28.87">72</text>
<text transform="translate(668.53,1314.21) scale(1.0140,1)" font-size="28.87">84</text>
<text transform="translate(749.38,1314.21) scale(1.0140,1)" font-size="28.87">96</text>
<text transform="translate(974.90,1308.42) scale(1.0322,1)" font-size="27.75">0</text>
<text transform="translate(1047.50,1308.56) scale(1.0322,1)" font-size="27.75">12</text>
<text transform="translate(1126.57,1308.56) scale(1.0322,1)" font-size="27.75">24</text>
<text transform="translate(1206.68,1308.42) scale(1.0322,1)" font-size="27.75">36</text>
<text transform="translate(1286.57,1308.42) scale(1.0322,1)" font-size="27.75">48</text>
<text transform="translate(1365.96,1308.42) scale(1.0322,1)" font-size="27.75">60</text>
<text transform="translate(1447.36,1308.56) scale(1.0322,1)" font-size="27.75">72</text>
<text transform="translate(1525.89,1308.42) scale(1.0322,1)" font-size="27.75">84</text>
<text transform="translate(1606.11,1308.42) scale(1.0322,1)" font-size="27.75">96</text>
<text transform="translate(1617.00,572.24) scale(1.0491,1)" font-size="26.48">84</text>
<text transform="translate(376.41,609.40) scale(0.9513,1)" font-size="30.58" font-weight="700">Time(months)</text>
<text transform="translate(1226.61,606.40) scale(0.9369,1)" font-size="31.01" font-weight="700">Time(months)</text>
<text transform="translate(378.41,1354.00) scale(0.9609,1)" font-size="30.29" font-weight="700">Time(months)</text>
<text transform="translate(1210.31,1352.70) scale(0.9813,1)" font-size="29.57" font-weight="700">Time(months)</text>
<text transform="translate(30.61,424.40) rotate(-90) scale(0.9889,1)" font-size="25.67" font-weight="700">Disease-free survial(%)</text>
<text transform="translate(880.76,498.15) rotate(-90) scale(0.9824,1)" font-size="25.88" font-weight="700">Distant metastasis-free survival %)</text>
<text transform="translate(30.61,1160.75) rotate(-90) scale(0.9884,1)" font-size="25.67" font-weight="700">Disease-free survial(%)</text>
<text transform="translate(886.13,1241.55) rotate(-90) scale(0.9939,1)" font-size="25.56" font-weight="700">Local recurrence-free survival (%)</text>
<text transform="translate(203.36,471.05) scale(0.8688,1)" font-size="22.10">NCT (n = 21)</text>
<text transform="translate(203.37,504.75) scale(0.8483,1)" font-size="22.54">NCRT (n = 45)</text>
<text transform="translate(1070.46,475.60) scale(0.8837,1)" font-size="21.74">NCT (n = 21)</text>
<text transform="translate(1070.47,509.40) scale(0.8636,1)" font-size="22.17">NCRT (n = 45)</text>
<text transform="translate(208.94,1214.00) scale(1.0349,1)" font-size="21.30">NCT (n = 301)</text>
<text transform="translate(208.95,1247.60) scale(1.0292,1)" font-size="21.30">NCRT (n = 439)</text>
<text transform="translate(1068.24,1213.10) scale(1.0180,1)" font-size="21.59">NCT (n = 301)</text>
<text transform="translate(1068.25,1246.80) scale(1.0059,1)" font-size="21.74">NCRT (n = 439)</text>
<text transform="translate(541.89,470.70) scale(0.9551,1)" font-size="21.14">p = 0·026</text>
<text transform="translate(541.98,507.70) scale(0.9674,1)" font-size="20.87">HR = 10.580 (1·333−83·974)</text>
<text transform="translate(1386.66,474.60) scale(0.9593,1)" font-size="21.43">p = 0·042</text>
<text transform="translate(1386.66,511.00) scale(0.9775,1)" font-size="21.01">HR = 8·828 (1·081−72·064)</text>
<text transform="translate(525.07,1214.10) scale(1.0371,1)" font-size="21.14">p = 0·02</text>
<text transform="translate(525.15,1247.20) scale(1.0271,1)" font-size="21.30">HR = 0·705 (0·525−0·946)</text>
<text transform="translate(1382.72,1216.25) scale(1.0123,1)" font-size="20.93">p = 0·001</text>
<text transform="translate(1382.35,1249.30) scale(1.0468,1)" font-size="20.87">HR = 0·389 (0.220−0·687)</text>
<text transform="translate(22.13,629.73) scale(1.0893,1)" font-size="27.21">No  at risk:</text>
<text transform="translate(885.13,625.72) scale(1.0628,1)" font-size="27.89">No  at risk:</text>
<text transform="translate(13.63,1378.71) scale(1.0375,1)" font-size="28.57">No  at risk:</text>
<text transform="translate(873.64,1374.71) scale(1.0337,1)" font-size="28.57">No  at risk:</text>
<text transform="translate(22.74,668.49) scale(1.0411,1)" font-size="21.13">NCT</text>
<text transform="translate(22.76,702.79) scale(1.0321,1)" font-size="21.13">NCRT</text>
<text transform="translate(885.74,664.28) scale(1.0075,1)" font-size="21.83">NCT</text>
<text transform="translate(885.74,697.79) scale(1.0410,1)" font-size="21.13">NCRT</text>
<text transform="translate(14.24,1416.79) scale(1.0411,1)" font-size="21.13">NCT</text>
<text transform="translate(14.23,1450.79) scale(1.0499,1)" font-size="21.13">NCRT</text>
<text transform="translate(874.28,1412.79) scale(1.0169,1)" font-size="21.13">NCT</text>
<text transform="translate(874.26,1446.30) scale(1.0677,1)" font-size="20.42">NCRT</text>
<text transform="translate(110.81,669.44) scale(0.9876,1)" font-size="25.89">21</text>
<text transform="translate(198.43,669.31) scale(0.9876,1)" font-size="25.89">16</text>
<text transform="translate(293.23,669.31) scale(0.9876,1)" font-size="25.89">14</text>
<text transform="translate(384.45,669.31) scale(0.9876,1)" font-size="25.89">11</text>
<text transform="translate(485.65,669.31) scale(0.9876,1)" font-size="25.89">9</text>
<text transform="translate(576.84,669.31) scale(0.9876,1)" font-size="25.89">8</text>
<text transform="translate(667.40,669.18) scale(0.9876,1)" font-size="25.89">5</text>
<text transform="translate(765.40,669.31) scale(0.9876,1)" font-size="25.89">0</text>
<text transform="translate(109.64,705.13) scale(1.0458,1)" font-size="24.65">45</text>
<text transform="translate(198.88,705.25) scale(1.0458,1)" font-size="24.65">39</text>
<text transform="translate(293.57,705.25) scale(1.0458,1)" font-size="24.65">30</text>
<text transform="translate(384.13,705.25) scale(1.0458,1)" font-size="24.65">23</text>
<text transform="translate(478.74,705.25) scale(1.0458,1)" font-size="24.65">18</text>
<text transform="translate(569.56,705.25) scale(1.0458,1)" font-size="24.65">13</text>
<text transform="translate(667.35,705.25) scale(1.0458,1)" font-size="24.65">9</text>
<text transform="translate(765.41,705.25) scale(1.0458,1)" font-size="24.65">3</text>
<text transform="translate(960.59,662.44) scale(1.0166,1)" font-size="25.53">21</text>
<text transform="translate(1052.05,662.31) scale(1.0166,1)" font-size="25.53">16</text>
<text transform="translate(1146.51,662.31) scale(1.0166,1)" font-size="25.53">14</text>
<text transform="translate(1244.99,662.31) scale(1.0166,1)" font-size="25.53">11</text>
<text transform="translate(1346.30,662.31) scale(1.0166,1)" font-size="25.53">9</text>
<text transform="translate(1436.93,662.31) scale(1.0166,1)" font-size="25.53">8</text>
<text transform="translate(1531.90,662.18) scale(1.0166,1)" font-size="25.53">5</text>
<text transform="translate(1625.80,662.31) scale(1.0166,1)" font-size="25.53">0</text>
<text transform="translate(961.55,698.61) scale(0.9957,1)" font-size="26.06">45</text>
<text transform="translate(1052.05,698.74) scale(0.9957,1)" font-size="26.06">40</text>
<text transform="translate(1146.92,698.74) scale(0.9957,1)" font-size="26.06">33</text>
<text transform="translate(1244.97,698.74) scale(0.9957,1)" font-size="26.06">25</text>
<text transform="translate(1339.46,698.74) scale(0.9957,1)" font-size="26.06">19</text>
<text transform="translate(1429.52,698.74) scale(0.9957,1)" font-size="26.06">14</text>
<text transform="translate(1524.15,698.74) scale(0.9957,1)" font-size="26.06">10</text>
<text transform="translate(1625.62,698.74) scale(0.9957,1)" font-size="26.06">4</text>
<text transform="translate(108.81,1414.25) scale(1.0268,1)" font-size="25.35">301</text>
<text transform="translate(181.70,1414.25) scale(1.0268,1)" font-size="25.35">218</text>
<text transform="translate(261.79,1414.25) scale(1.0268,1)" font-size="25.35">139</text>
<text transform="translate(352.47,1414.25) scale(1.0268,1)" font-size="25.35">97</text>
<text transform="translate(436.24,1414.25) scale(1.0268,1)" font-size="25.35">63</text>
<text transform="translate(516.37,1414.25) scale(1.0268,1)" font-size="25.35">36</text>
<text transform="translate(595.95,1414.25) scale(1.0268,1)" font-size="25.35">11</text>
<text transform="translate(679.53,1414.37) scale(1.0268,1)" font-size="25.35">2</text>
<text transform="translate(758.45,1414.25) scale(1.0268,1)" font-size="25.35">1</text>
<text transform="translate(109.28,1450.73) scale(0.9640,1)" font-size="26.76">439</text>
<text transform="translate(182.09,1450.73) scale(0.9640,1)" font-size="26.76">386</text>
<text transform="translate(262.31,1450.73) scale(0.9640,1)" font-size="26.76">293</text>
<text transform="translate(345.14,1450.73) scale(0.9640,1)" font-size="26.76">210</text>
<text transform="translate(429.14,1450.73) scale(0.9640,1)" font-size="26.76">143</text>
<text transform="translate(516.28,1450.73) scale(0.9640,1)" font-size="26.76">77</text>
<text transform="translate(596.00,1450.73) scale(0.9640,1)" font-size="26.76">33</text>
<text transform="translate(680.09,1450.73) scale(0.9640,1)" font-size="26.76">9</text>
<text transform="translate(758.52,1450.73) scale(0.9640,1)" font-size="26.76">1</text>
<text transform="translate(961.04,1410.87) scale(1.0085,1)" font-size="25.71">301</text>
<text transform="translate(1037.51,1411.00) scale(1.0085,1)" font-size="25.71">242</text>
<text transform="translate(1117.77,1410.87) scale(1.0085,1)" font-size="25.71">163</text>
<text transform="translate(1201.84,1410.87) scale(1.0085,1)" font-size="25.71">114</text>
<text transform="translate(1288.54,1410.87) scale(1.0085,1)" font-size="25.71">73</text>
<text transform="translate(1368.09,1410.87) scale(1.0085,1)" font-size="25.71">37</text>
<text transform="translate(1447.88,1411.00) scale(1.0085,1)" font-size="25.71">12</text>
<text transform="translate(1535.15,1411.00) scale(1.0085,1)" font-size="25.71">2</text>
<text transform="translate(1614.48,1410.87) scale(1.0085,1)" font-size="25.71">1</text>
<text transform="translate(962.01,1446.75) scale(1.0405,1)" font-size="24.65">439</text>
<text transform="translate(1037.94,1446.75) scale(1.0405,1)" font-size="24.65">408</text>
<text transform="translate(1117.62,1446.75) scale(1.0405,1)" font-size="24.65">344</text>
<text transform="translate(1201.27,1446.75) scale(1.0405,1)" font-size="24.65">250</text>
<text transform="translate(1280.18,1446.75) scale(1.0405,1)" font-size="24.65">171</text>
<text transform="translate(1368.05,1446.75) scale(1.0405,1)" font-size="24.65">95</text>
<text transform="translate(1448.24,1446.75) scale(1.0405,1)" font-size="24.65">37</text>
<text transform="translate(1535.23,1446.75) scale(1.0405,1)" font-size="24.65">9</text>
<text transform="translate(1614.56,1446.75) scale(1.0405,1)" font-size="24.65">1</text>
</g>
</svg></body></html>
